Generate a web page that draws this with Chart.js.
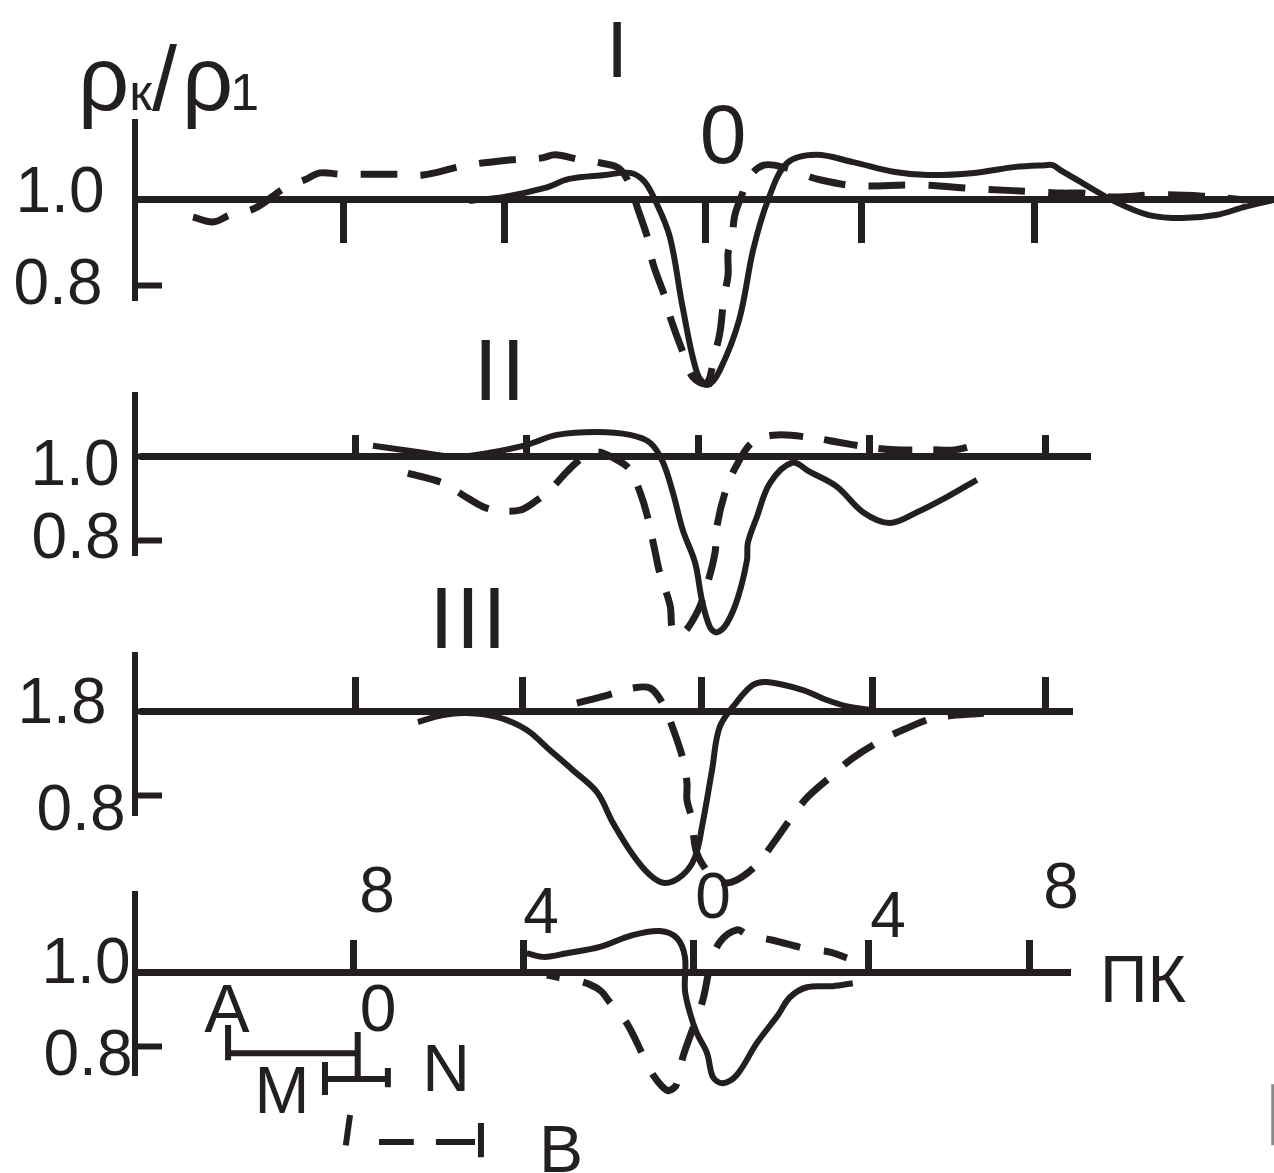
<!DOCTYPE html>
<html><head><meta charset="utf-8">
<style>
html,body{margin:0;padding:0;background:#fff;width:1274px;height:1173px;overflow:hidden}
canvas{position:absolute;left:0;top:0}
.t{position:absolute;font-family:"Liberation Sans",Arial,sans-serif;color:#231f20;line-height:1;white-space:nowrap;transform:translateX(-50%)}
</style>
<script src="https://cdn.jsdelivr.net/npm/chart.js@4"></script>
</head><body>
<canvas id="c1" width="1274" height="1173"></canvas>
<canvas id="c2" width="1274" height="1173"></canvas>
<canvas id="c3" width="1274" height="1173"></canvas>
<canvas id="c4" width="1274" height="1173"></canvas>
<script>
// Panel I
const p1SolidX=[-5.58,-4.75,-3.79,-3.22,-2.38,-1.79,-1.46,-1.20,-0.85,-0.55,-0.21,0.04,0.33,0.78,1.11,1.46,1.91,2.59,3.46,4.45,5.22,6.31,7.29,7.98,8.16,8.33,8.85,9.65,10.42,11.20,12.00,12.68,13.34];
const p1SolidY=[0.998,1.007,1.028,1.049,1.058,1.063,1.044,1.000,0.914,0.751,0.598,0.570,0.605,0.721,0.884,1.000,1.086,1.105,1.088,1.065,1.058,1.063,1.077,1.081,1.081,1.070,1.040,0.995,0.965,0.958,0.965,0.984,1.000];
const p1DashX=[-12.07,-11.60,-11.20,-10.61,-9.91,-9.44,-9.08,-8.61,-7.20,-6.66,-5.81,-5.27,-4.40,-3.86,-3.55,-3.01,-2.47,-2.05,-1.79,-1.62,-1.36,-1.25,-0.94,-0.82,-0.52,-0.31,0.02,0.19,0.33,0.42,0.52,0.52,0.61,0.68,0.87,0.96,1.36,1.91,2.19,2.68,3.55,4.99,6.40,7.79,8.38,8.85,9.55,10.61,11.69,12.68];
const p1DashY=[0.960,0.949,0.965,0.981,1.028,1.047,1.063,1.060,1.060,1.058,1.077,1.086,1.095,1.098,1.105,1.095,1.086,1.074,1.035,0.984,0.907,0.853,0.767,0.721,0.640,0.588,0.574,0.635,0.693,0.772,0.826,0.877,0.912,0.965,1.019,1.047,1.081,1.074,1.063,1.047,1.033,1.035,1.026,1.019,1.016,1.016,1.007,1.012,1.009,1.000];
const p1TicksX=[-8.52,-4.75,0,3.67,7.72];
const p1TicksY=[1.0,0.8];
// Panel II
const p2SolidX=[-7.67,-6.49,-5.69,-4.92,-4.05,-3.34,-2.40,-1.62,-1.15,-0.85,-0.61,-0.38,-0.09,0.07,0.26,0.42,0.66,0.92,1.13,1.15,1.36,1.67,2.19,2.61,3.25,3.86,4.49,5.13,5.84,6.54];
const p2SolidY=[1.027,1.010,1.000,1.010,1.029,1.053,1.060,1.053,1.034,0.988,0.913,0.824,0.745,0.655,0.590,0.578,0.600,0.663,0.752,0.793,0.855,0.937,0.986,0.964,0.928,0.867,0.841,0.867,0.904,0.945];
const p2DashX=[-6.85,-6.02,-5.55,-5.08,-4.75,-4.21,-3.81,-3.51,-3.11,-2.80,-2.40,-1.93,-1.62,-1.39,-1.22,-1.04,-0.92,-0.68,-0.61,-0.38,-0.02,0.19,0.38,0.42,0.61,0.85,1.27,1.84,2.66,3.25,3.95,4.61,5.48,6.02,6.68];
const p2DashY=[0.961,0.937,0.908,0.880,0.872,0.872,0.896,0.920,0.964,0.993,1.012,0.993,0.969,0.916,0.860,0.776,0.720,0.643,0.583,0.576,0.631,0.692,0.771,0.831,0.913,0.973,1.036,1.053,1.046,1.036,1.024,1.017,1.017,1.017,1.034];
const p2TicksX=[-8.09,-4.05,0,4.02,8.16];
const p2TicksY=[1.0,0.8];
// Panel III
const p3SolidX=[-6.68,-6.09,-5.53,-4.82,-4.12,-3.58,-3.04,-2.47,-2.09,-1.62,-1.22,-0.87,-0.45,-0.16,0.02,0.24,0.42,0.82,1.20,1.53,2.38,2.94,3.48,4.02];
const p3SolidY=[1.669,1.752,1.776,1.729,1.574,1.336,1.098,0.836,0.467,0.086,-0.152,-0.248,-0.152,0.062,0.467,1.098,1.610,1.907,2.110,2.145,2.050,1.931,1.848,1.812];
const p3DashX=[-2.94,-2.21,-1.62,-1.22,-0.94,-0.71,-0.45,-0.35,-0.35,-0.24,-0.14,0.07,0.33,0.71,1.29,1.65,2.12,2.49,3.08,3.55,4.24,4.78,5.48,6.66];
const p3DashY=[1.895,1.990,2.074,2.074,1.907,1.633,1.240,0.943,0.740,0.526,0.145,-0.069,-0.212,-0.236,-0.033,0.205,0.538,0.776,1.038,1.240,1.455,1.586,1.717,1.776];
const p3TicksX=[-8.16,-4.21,0,4.02,8.09];
const p3TicksY=[1.8,0.8];
// Panel IV
const p4SolidX=[-3.93,-3.51,-2.99,-2.21,-1.44,-0.80,-0.40,-0.21,-0.21,-0.09,0.07,0.31,0.45,0.68,1.01,1.48,1.98,2.26,2.66,3.27,3.74];
const p4SolidY=[1.051,1.041,1.051,1.068,1.100,1.111,1.092,1.041,0.951,0.889,0.835,0.781,0.716,0.700,0.722,0.808,0.884,0.932,0.959,0.962,0.970];
const p4DashX=[-3.46,-3.20,-2.61,-2.21,-1.98,-1.58,-1.20,-0.96,-0.64,-0.45,-0.38,-0.26,-0.02,0.21,0.38,0.61,1.01,1.27,1.86,2.68,3.20,3.60];
const p4DashY=[0.992,0.986,0.973,0.951,0.919,0.862,0.776,0.722,0.681,0.689,0.708,0.770,0.849,0.924,1.014,1.081,1.114,1.100,1.086,1.062,1.054,1.038];
const p4TicksX=[-8,-4.02,0,4.12,7.9];
const p4TicksY=[1.0,0.8];
// Electrode array AMNB, drawn below panel IV in the same units
const arrayABX=[-10.96,-10.96,null,-10.96,-7.91,null,-7.91,-7.91];
const arrayABY=[0.857,0.762,null,0.781,0.781,null,0.838,0.711];
const arrayMNX=[-8.68,-7.20,null,-8.68,-8.68,null,-7.20,-7.20];
const arrayMNY=[0.711,0.711,null,0.757,0.668,null,0.741,0.689];
const arrayBX=[-8.09,-8.19,null,-7.41,-6.59,null,-6.07,-5.15,null,-5.01,-5.01];
const arrayBY=[0.614,0.532,null,0.541,0.541,null,0.541,0.541,null,0.592,0.500];
// Grey rule at the page's lower right edge
const edgeX=[13.62,13.62];
const edgeY=[0.697,0.532];
// Text
const labelText=["I","II","III","0","1.0","0.8","1.0","0.8","1.8","0.8","1.0","0.8","8","4","0","4","8","ПК","A","0","N","M","B"];
const labelCx=[617,501,469,723,60,58,75,76,62,81,86,88,377,541,713,888,1061,1143,227,378,446,282,561];
const labelBase=[78,400,648,163,212,304,485,558,723,830,983,1075,912,933,918,937,908,1002,1032,1031,1091,1113,1172];
const labelSize=[80,88,88,84,64,64,64,64,64,64,64,64,64,64,64,64,64,66,68,66,66,66,66];
const labelSpacing=[0,3,2,0,0,0,0,0,0,0,0,0,0,0,0,0,0,0,0,0,0,0,0];

const INK='#231f20';
const pts=(xs,ys)=>xs.map((x,i)=>({x,y:ys[i]}));
function solid(xs,ys){return{data:pts(xs,ys),borderColor:INK,borderWidth:6,showLine:true,pointRadius:0,tension:0.35,clip:false,borderCapStyle:'butt'};}
function dashed(xs,ys,dash,off){return{data:pts(xs,ys),borderColor:INK,borderWidth:7,borderDash:dash,borderDashOffset:off,showLine:true,pointRadius:0,tension:0.35,clip:false,borderCapStyle:'butt'};}
function straight(xs,ys,w,c){return{data:pts(xs,ys),borderColor:c||INK,borderWidth:w||6,showLine:true,pointRadius:0,tension:0,clip:false,spanGaps:false};}

function panel(id,datasets,g){
  const [L,R,T,B]=g.area;
  new Chart(document.getElementById(id),{
    type:'scatter',
    data:{datasets},
    options:{
      responsive:false,animation:false,
      events:[],
      layout:{padding:{left:L,right:1274-R,top:T,bottom:1173-B}},
      elements:{line:{capBezierPoints:false}},
      plugins:{legend:{display:false},tooltip:{enabled:false},title:{display:false}},
      scales:{
        x:{type:'linear',min:g.x[0],max:g.x[1],position:{y:g.axisY},
          afterBuildTicks:s=>{s.ticks=g.ticksX.map(v=>({value:v}));},
          afterFit:s=>{s.height=0;},
          ticks:{display:false},
          border:{display:true,color:INK,width:7},
          grid:{display:true,drawOnChartArea:false,drawTicks:true,tickLength:g.tickX,tickWidth:7,tickColor:INK}},
        y:{type:'linear',min:g.y[0],max:g.y[1],position:{x:g.axisX},
          afterBuildTicks:s=>{s.ticks=g.ticksY.map(v=>({value:v}));},
          afterFit:s=>{s.width=0;},
          ticks:{display:false},
          border:{display:true,color:INK,width:6},
          grid:{display:true,drawOnChartArea:false,drawTicks:true,tickLength:-30,tickWidth:6,tickColor:INK}}
      }
    }
  });
}
panel('c1',[solid(p1SolidX,p1SolidY),dashed(p1DashX,p1DashY,[37,23],0)],
  {area:[135,1274,122,300],x:[-13.435,13.365],y:[0.7674,1.1814],axisY:1,axisX:-13.435,ticksX:p1TicksX,ticksY:p1TicksY,tickX:40});
panel('c2',[solid(p2SolidX,p2SolidY),dashed(p2DashX,p2DashY,[34,21],0)],
  {area:[143,1090,395,555],x:[-13.08,9.20],y:[0.764,1.149],axisY:1,axisX:-13.27,ticksX:p2TicksX,ticksY:p2TicksY,tickX:-25});
panel('c3',[solid(p3SolidX,p3SolidY),dashed(p3DashX,p3DashY,[36,22],0)],
  {area:[143,1072,655,815],x:[-13.15,8.71],y:[0.562,2.467],axisY:1.8,axisX:-13.34,ticksX:p3TicksX,ticksY:p3TicksY,tickX:-38});
panel('c4',[solid(p4SolidX,p4SolidY),dashed(p4DashX,p4DashY,[35,24],22),straight(arrayABX,arrayABY),straight(arrayMNX,arrayMNY),straight(arrayBX,arrayBY),straight(edgeX,edgeY,3,'#8a8a8a')],
  {area:[135,1070,894,1075],x:[-13.15,8.85],y:[0.722,1.211],axisY:1,axisX:-13.15,ticksX:p4TicksX,ticksY:p4TicksY,tickX:-36});

function addText(txt,cx,base,size,sp){
  const d=document.createElement('div');d.className='t';d.textContent=txt;
  d.style.left=cx+'px';d.style.top=(base-0.8465*size)+'px';d.style.fontSize=size+'px';
  if(sp)d.style.letterSpacing=sp+'px';
  document.body.appendChild(d);
}
labelText.forEach((t,i)=>addText(t,labelCx[i],labelBase[i],labelSize[i],labelSpacing[i]));
// axis title rho_k / rho_1
const rho=document.createElement('div');rho.className='t';rho.style.transform='none';
rho.style.left='78px';rho.style.top=(110-0.8465*90)+'px';rho.style.fontSize='90px';
rho.innerHTML='ρ<span style="font-size:52px">к</span>/<span style="margin-left:5px">ρ</span><span style="font-size:52px;margin-left:-3px">1</span>';
document.body.appendChild(rho);
</script>
</body></html>
